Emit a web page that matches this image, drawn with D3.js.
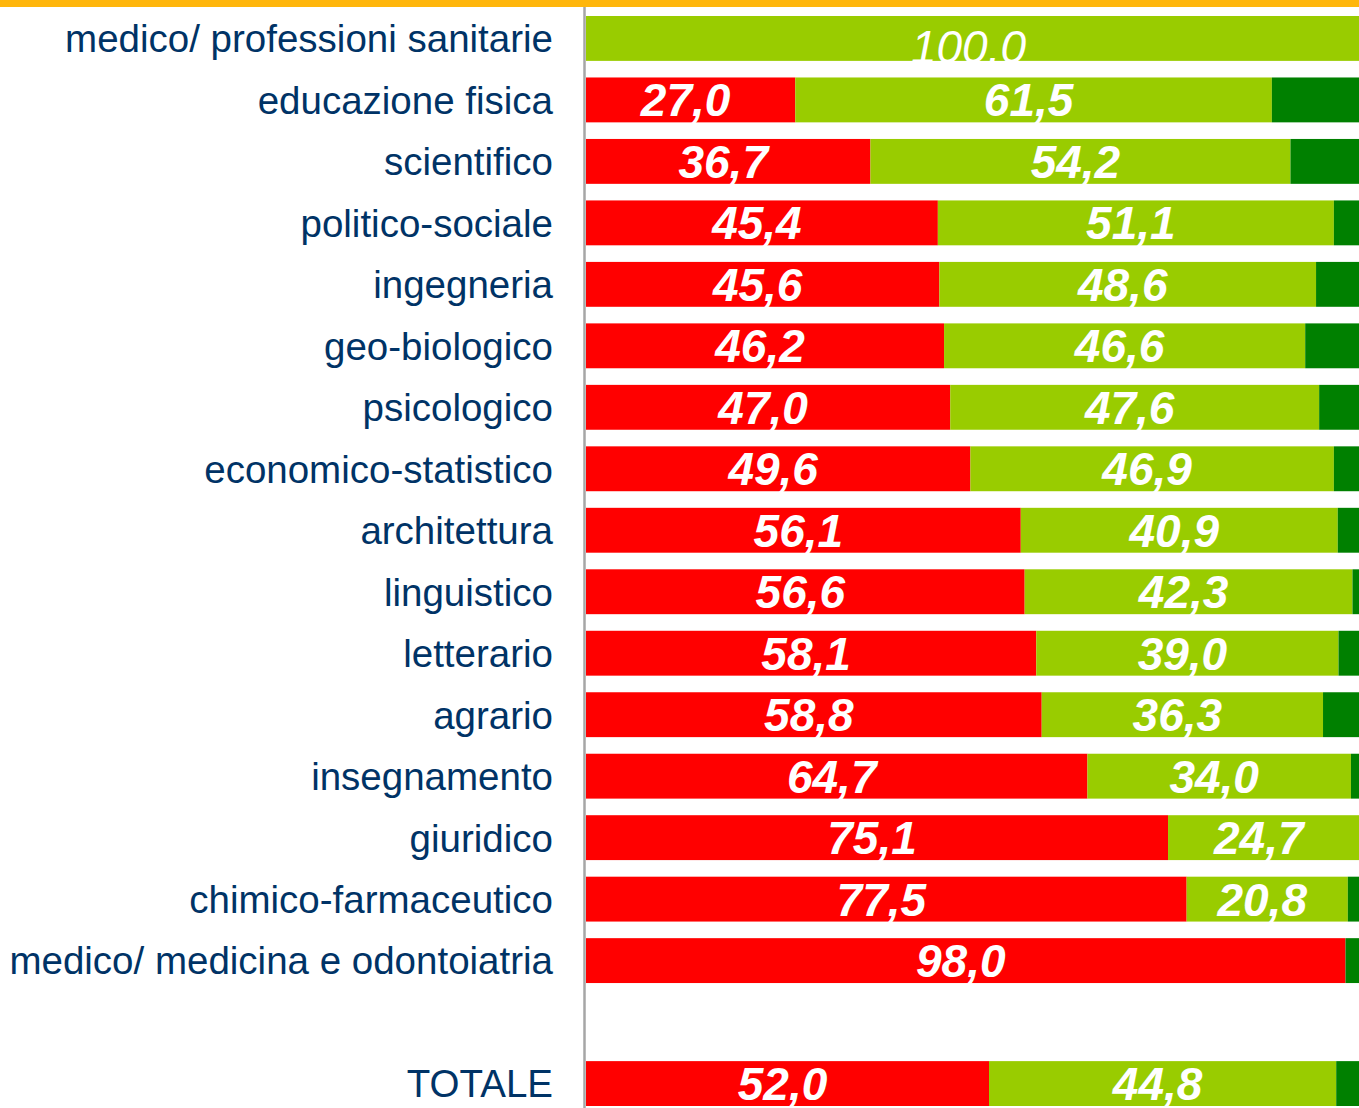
<!DOCTYPE html>
<html>
<head>
<meta charset="utf-8">
<script src="https://cdn.jsdelivr.net/npm/d3@7"></script>
<style>
  body { margin: 0; background: #fff; }
  svg { display: block; }
</style>
</head>
<body>
<div id="chart"></div>
<script>
const width = 1359;
const height = 1108;
const margin = {top: 16, left: 586, bottom: 2};

// categories, top to bottom ("" is the empty row before TOTALE)
const categories = [
    "medico/ professioni sanitarie", "educazione fisica", "scientifico",
    "politico-sociale", "ingegneria", "geo-biologico", "psicologico",
    "economico-statistico", "architettura", "linguistico", "letterario",
    "agrario", "insegnamento", "giuridico", "chimico-farmaceutico",
    "medico/ medicina e odontoiatria", "", "TOTALE"
];
const redValues   = [0, 27.0, 36.7, 45.4, 45.6, 46.2, 47.0, 49.6, 56.1, 56.6, 58.1, 58.8, 64.7, 75.1, 77.5, 98.0, null, 52.0];
const lightValues = [100.0, 61.5, 54.2, 51.1, 48.6, 46.6, 47.6, 46.9, 40.9, 42.3, 39.0, 36.3, 34.0, 24.7, 20.8, 0, null, 44.8];
const darkValues  = [0, 11.5, 9.1, 3.5, 5.8, 7.2, 5.4, 3.5, 3.0, 1.1, 2.9, 4.9, 1.3, 0.2, 1.7, 2.0, null, 3.2];

const colors = {red: "#FF0000", light: "#99CC00", dark: "#008000"};

const svg = d3.select("#chart").append("svg")
    .attr("width", width)
    .attr("height", height);

// orange strip at the top
svg.append("rect")
    .attr("x", 0).attr("y", 0)
    .attr("width", width).attr("height", 7)
    .attr("fill", "#FFB60B");

const x = d3.scaleLinear()
    .domain([0, 100])
    .range([margin.left, 1361]);

const y = d3.scaleBand()
    .domain(categories.map((c, i) => i))
    .range([margin.top, height - margin.bottom])
    .paddingInner(0.27)
    .paddingOuter(0);

// stack the three series
const rows = categories.map((c, i) => ({i, red: redValues[i], light: lightValues[i], dark: darkValues[i]}))
    .filter(d => d.red !== null);
const keys = ["red", "light", "dark"];
const stacked = d3.stack().keys(keys)(rows);

const fmt = v => v === 100 ? "100.0" : d3.format(".1f")(v).replace(".", ",");

stacked.forEach(layer => {
    const g = svg.append("g").attr("fill", colors[layer.key]);
    g.selectAll("rect")
        .data(layer.filter(d => d[1] - d[0] > 0))
        .join("rect")
        .attr("x", d => x(d[0]))
        .attr("y", d => y(d.data.i))
        .attr("width", d => x(d[1]) - x(d[0]))
        .attr("height", y.bandwidth());

    if (layer.key !== "dark") {
        svg.append("g").selectAll("text")
            .data(layer.filter(d => d[1] - d[0] > 0))
            .join("text")
            .attr("x", d => (x(d[0]) + x(d[1])) / 2 - 5)
            .attr("y", d => y(d.data.i) + y.bandwidth() / 2 + (d.data.i === 0 ? 8 : 0))
            .attr("dy", "0.36em")
            .attr("text-anchor", "middle")
            .attr("fill", "#fff")
            .style("font-family", "'Liberation Sans', Arial, sans-serif")
            .style("font-size", "46px")
            .style("font-weight", d => d.data.i === 0 ? "normal" : "bold")
            .style("font-style", "italic")
            .text(d => fmt(d[1] - d[0]));
    }
});

// category axis
const axis = svg.append("g")
    .attr("transform", `translate(${margin.left - 2},0)`)
    .call(d3.axisLeft(y).tickSize(0).tickPadding(31).tickFormat(i => categories[i]));
axis.select(".domain").remove();
axis.selectAll("text")
    .attr("fill", "#003366")
    .attr("dy", "0.36em")
    .style("font-family", "'Liberation Sans', Arial, sans-serif")
    .style("font-size", "38.5px");

svg.append("line")
    .attr("x1", margin.left - 1.5).attr("x2", margin.left - 1.5)
    .attr("y1", 7).attr("y2", height)
    .attr("stroke", "#A6A6A6")
    .attr("stroke-width", 2.5);
</script>
</body>
</html>
